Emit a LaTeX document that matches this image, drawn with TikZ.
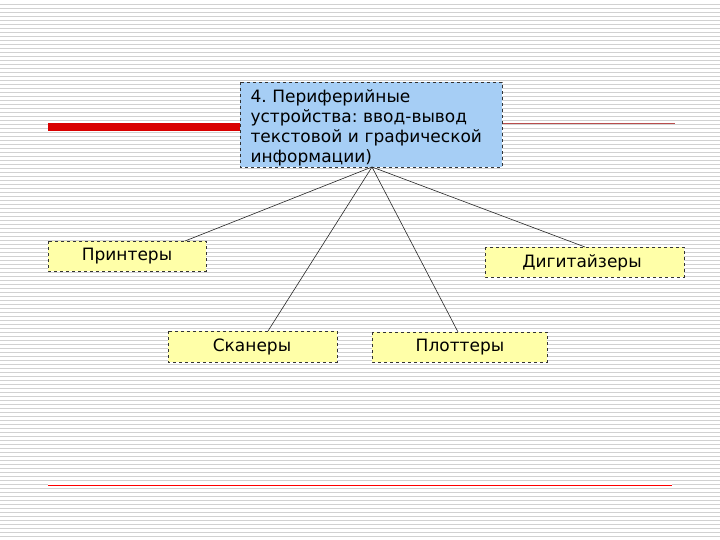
\documentclass[tikz,border=0pt]{standalone}
\usepackage{fontspec}
\setmainfont{DejaVu Sans}
\frenchspacing
\begin{document}
\begin{tikzpicture}[x=1pt,y=-1pt,
  box/.style={draw=black!80,dashed,line width=0.6pt,inner sep=0pt},
  lbl/.style={font=\fontsize{17}{20}\selectfont},
  conn/.style={draw=black!85,line width=0.6pt}]
\useasboundingbox (0,0) rectangle (720,540);
\fill[white] (0,0) rectangle (720,540);
\foreach \i in {1,...,134} \draw[black!18,line width=0.6pt] (0,\i*4) -- (720,\i*4);
\draw[red!60!black!70,line width=0.6pt] (48,123) -- (675,123);
\fill[red!85!black] (48,123) rectangle (240,131);
\fill[white] (48,483.5) rectangle (672,486.5);
\draw[red,line width=1pt] (48,485) -- (672,485);
% boxes
\definecolor{topblue}{HTML}{A6CEF5}
\definecolor{leafyel}{HTML}{FFFFA8}
\draw[box,fill=topblue] (240,82) rectangle (502,167);
\node[lbl,anchor=north west,align=left,text width=260] (top) at (247,86) {4. Периферийные\\устройства: ввод-вывод\\текстовой и графической\\информации)};
\coordinate (hub) at (372,167);
\draw[box,fill=leafyel] (48,241) rectangle (206,271);
\node[lbl] (pr) at (127,256) {Принтеры};
\draw[box,fill=leafyel] (485,247) rectangle (684,277);
\node[lbl] (dg) at (582,263) {Дигитайзеры};
\draw[box,fill=leafyel] (168,331) rectangle (337,362);
\node[lbl] (sc) at (252,347) {Сканеры};
\draw[box,fill=leafyel] (372,332) rectangle (547,362);
\node[lbl] (pl) at (460,347) {Плоттеры};
\coordinate (a) at (185,241);
\coordinate (b) at (585,247);
\coordinate (c) at (268,331);
\coordinate (d) at (458,332);
\draw[conn] (hub) -- (a);
\draw[conn] (hub) -- (b);
\draw[conn] (hub) -- (c);
\draw[conn] (hub) -- (d);
\end{tikzpicture}
\end{document}
